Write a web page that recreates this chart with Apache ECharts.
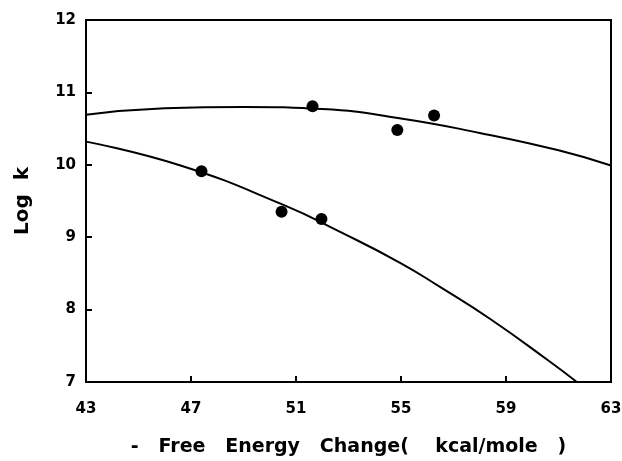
<!DOCTYPE html>
<html>
<head>
<meta charset="utf-8">
<script src="https://cdn.jsdelivr.net/npm/echarts@6/dist/echarts.min.js"></script>
<style>
  html, body { margin: 0; padding: 0; background: #fff; }
  #chart { width: 622px; height: 461px; }
</style>
</head>
<body>
<div id="chart"></div>
<script>
// measured points
var pointX = [47.40, 50.45, 51.63, 51.97, 54.86, 56.26];
var pointY = [9.91, 9.35, 10.81, 9.25, 10.48, 10.68];

// upper fitted curve
var upperX = [43, 46, 49, 52, 55, 58, 61, 63];
var upperY = [10.69, 10.78, 10.80, 10.77, 10.64, 10.44, 10.20, 9.99];

// lower fitted curve
var lowerX = [43, 46.6, 50.5, 52.7, 55.0, 56.5, 58.4, 60.6, 61.7];
var lowerY = [10.32, 9.99, 9.45, 9.07, 8.64, 8.31, 7.87, 7.30, 7.0];

var xTicks = [43, 47, 51, 55, 59, 63];
var yTicks = [7, 8, 9, 10, 11, 12];

function zip(xs, ys) {
  return xs.map(function (x, i) { return [x, ys[i]]; });
}

var chart = echarts.init(document.getElementById("chart"));

var labelFont = {
  color: "#000",
  fontFamily: "DejaVu Sans",
  fontWeight: "bold",
  fontSize: 15,
};

var option = {
  backgroundColor: "#fff",
  animation: false,
  grid: {
    left: 86,
    right: 11,
    top: 20,
    bottom: 79,
    show: true,
    borderColor: "#000",
    borderWidth: 2,
    outerBoundsMode: "none",
  },
  xAxis: {
    type: "value",
    min: xTicks[0],
    max: xTicks[xTicks.length - 1],
    interval: 4,
    name: "-   Free   Energy   Change(    kcal/mole   )",
    nameLocation: "middle",
    nameGap: 56,
    nameTextStyle: {
      color: "#000",
      fontFamily: "DejaVu Sans",
      fontWeight: "bold",
      fontSize: 19,
    },
    axisLine: { lineStyle: { color: "#000", width: 2 } },
    axisTick: { inside: true, length: 6, lineStyle: { color: "#000", width: 2 } },
    axisLabel: Object.assign({ margin: 20 }, labelFont),
    splitLine: { show: false },
  },
  yAxis: {
    type: "value",
    min: yTicks[0],
    max: yTicks[yTicks.length - 1],
    interval: 1,
    name: "Log  k",
    nameLocation: "middle",
    nameGap: 53,
    nameTextStyle: {
      color: "#000",
      fontFamily: "DejaVu Sans",
      fontWeight: "bold",
      fontSize: 20,
    },
    axisLine: { lineStyle: { color: "#000", width: 2 } },
    axisTick: { inside: true, length: 6, lineStyle: { color: "#000", width: 2 } },
    axisLabel: Object.assign({ margin: 10 }, labelFont),
    splitLine: { show: false },
  },
  series: [
    {
      type: "line",
      data: zip(upperX, upperY),
      smooth: true,
      showSymbol: false,
      lineStyle: { color: "#000", width: 2 },
    },
    {
      type: "line",
      data: zip(lowerX, lowerY),
      smooth: true,
      showSymbol: false,
      lineStyle: { color: "#000", width: 2 },
    },
    {
      type: "scatter",
      data: zip(pointX, pointY),
      symbolSize: 12,
      itemStyle: { color: "#000", opacity: 1 },
    },
  ],
};

chart.setOption(option);
</script>
</body>
</html>
